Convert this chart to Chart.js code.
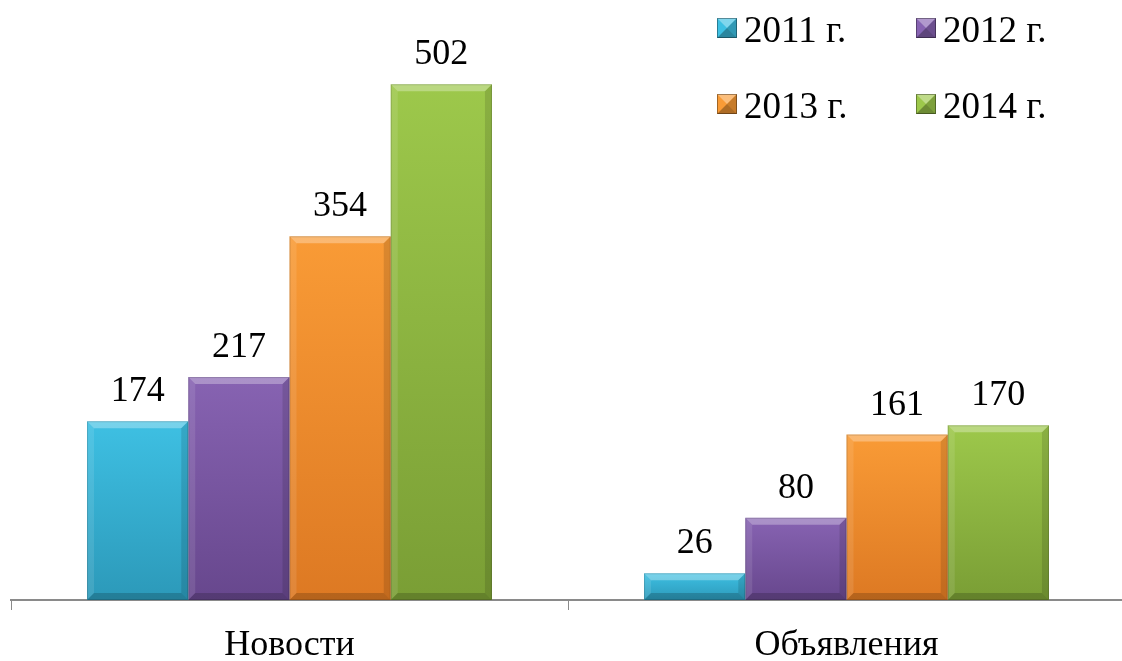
<!DOCTYPE html>
<html>
<head>
<meta charset="utf-8">
<script src="https://cdn.jsdelivr.net/npm/chart.js@4"></script>
<style>
  html, body { margin: 0; padding: 0; background: #fff; overflow: hidden; }
  #wrap { width: 1130px; height: 661px; position: relative; }
</style>
</head>
<body>
<div id="wrap"><canvas id="chart"></canvas></div>
<script>
var categories = ['Новости', 'Объявления'];
var years = ['2011 г.', '2012 г.', '2013 г.', '2014 г.'];
var values2011 = [174, 26];
var values2012 = [217, 80];
var values2013 = [354, 161];
var values2014 = [502, 170];

// top / bottom colour of each series' gradient
var topColors = ['#3ec0e3', '#8763b2', '#f99b36', '#9dc84b'];
var bottomColors = ['#2c99b9', '#67478d', '#dd7923', '#7a9e35'];
var FONT = "'Liberation Serif', 'Times New Roman', serif";

function barGradient(i) {
    return function(ctx) {
        var chart = ctx.chart;
        if (!chart.chartArea || ctx.raw == null) return topColors[i];
        var y = chart.scales.y;
        var top = y.getPixelForValue(ctx.raw);
        var bottom = y.getPixelForValue(0);
        var g = chart.ctx.createLinearGradient(0, top, 0, bottom);
        g.addColorStop(0, topColors[i]);
        g.addColorStop(1, bottomColors[i]);
        return g;
    };
}

// bevel edges on bars + value labels
var bevelPlugin = {
    id: 'bevel',
    afterDatasetsDraw: function(chart) {
        var c = chart.ctx;
        chart.data.datasets.forEach(function(ds, di) {
            var meta = chart.getDatasetMeta(di);
            meta.data.forEach(function(bar, idx) {
                var l = bar.x - bar.width / 2, r = bar.x + bar.width / 2;
                var t = bar.y, b = bar.base;
                var bv = Math.min(7, (b - t) / 2);
                c.save();
                c.fillStyle = 'rgba(255,255,255,0.3)';
                c.beginPath(); c.moveTo(l, t); c.lineTo(r, t); c.lineTo(r - bv, t + bv); c.lineTo(l + bv, t + bv); c.closePath(); c.fill();
                c.fillStyle = 'rgba(255,255,255,0.1)';
                c.beginPath(); c.moveTo(l, t); c.lineTo(l + bv, t + bv); c.lineTo(l + bv, b - bv); c.lineTo(l, b); c.closePath(); c.fill();
                c.fillStyle = 'rgba(0,0,0,0.12)';
                c.beginPath(); c.moveTo(r, t); c.lineTo(r - bv, t + bv); c.lineTo(r - bv, b - bv); c.lineTo(r, b); c.closePath(); c.fill();
                c.fillStyle = 'rgba(0,0,0,0.18)';
                c.beginPath(); c.moveTo(l, b); c.lineTo(r, b); c.lineTo(r - bv, b - bv); c.lineTo(l + bv, b - bv); c.closePath(); c.fill();
                c.strokeStyle = 'rgba(0,0,0,0.15)';
                c.lineWidth = 1;
                c.strokeRect(l + 0.5, t + 0.5, r - l - 1, b - t - 1);
                c.fillStyle = '#000';
                c.font = '36px ' + FONT;
                c.textAlign = 'center';
                c.textBaseline = 'alphabetic';
                c.fillText(String(ds.data[idx]), bar.x, t - 20);
                c.restore();
            });
        });
    }
};

// 2x2 legend in the top right corner
var legendPlugin = {
    id: 'gridLegend',
    afterDraw: function(chart) {
        var c = chart.ctx;
        var colX = [717, 916], rowY = [42, 118];
        chart.data.datasets.forEach(function(ds, i) {
            var x = colX[i % 2], base = rowY[Math.floor(i / 2)];
            var s = 20, top = base - 24;
            c.save();
            c.fillStyle = topColors[i];
            c.fillRect(x, top, s, s);
            c.fillStyle = 'rgba(255,255,255,0.35)';
            c.beginPath(); c.moveTo(x, top); c.lineTo(x + s, top); c.lineTo(x + s / 2, top + s / 2); c.closePath(); c.fill();
            c.fillStyle = 'rgba(0,0,0,0.2)';
            c.beginPath(); c.moveTo(x + s, top); c.lineTo(x + s, top + s); c.lineTo(x + s / 2, top + s / 2); c.closePath(); c.fill();
            c.fillStyle = 'rgba(0,0,0,0.3)';
            c.beginPath(); c.moveTo(x, top + s); c.lineTo(x + s, top + s); c.lineTo(x + s / 2, top + s / 2); c.closePath(); c.fill();
            c.strokeStyle = 'rgba(0,0,0,0.35)';
            c.strokeRect(x + 0.5, top + 0.5, s - 1, s - 1);
            c.fillStyle = '#000';
            c.font = '37px ' + FONT;
            c.textAlign = 'left';
            c.textBaseline = 'alphabetic';
            c.fillText(ds.label, x + 27, base);
            c.restore();
        });
    }
};

var seriesValues = [values2011, values2012, values2013, values2014];

new Chart(document.getElementById('chart'), {
    type: 'bar',
    data: {
        labels: categories,
        datasets: seriesValues.map(function(v, i) {
            return {
                label: years[i],
                data: v,
                backgroundColor: barGradient(i),
                borderWidth: 0,
                categoryPercentage: 0.727,
                barPercentage: 1
            };
        })
    },
    options: {
        responsive: true,
        maintainAspectRatio: false,
        animation: false,
        layout: { padding: { left: 11, right: 5, top: 0, bottom: 0 } },
        plugins: { legend: { display: false }, tooltip: { enabled: false } },
        scales: {
            y: { display: false, min: 0, max: 584 },
            x: {
                grid: { display: true, drawOnChartArea: false, drawTicks: true, tickLength: 10, color: '#8a8a8a', offset: true },
                border: { display: true, color: '#8a8a8a', width: 2 },
                ticks: { color: '#000', font: { family: FONT, size: 36 }, padding: 14 },
                afterFit: function(scale) { scale.height = 61; }
            }
        }
    },
    plugins: [bevelPlugin, legendPlugin]
});
</script>
</body>
</html>
